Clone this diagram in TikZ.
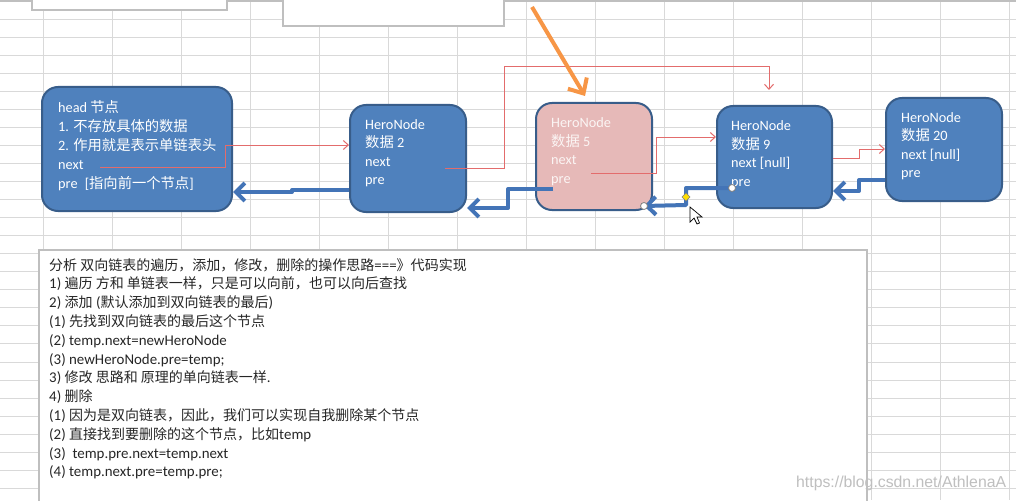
\documentclass[tikz,border=0pt]{standalone}
\usepackage{fontspec}
\setmainfont{Carlito}
\newfontfamily\cjk{Noto Sans CJK SC}
\newfontfamily\cjks[Scale=0.94]{Noto Sans CJK SC}
\newfontfamily\wmfont{Liberation Sans}
\usetikzlibrary{arrows.meta,calc}
\newcommand\zh[1]{{\cjk #1}}
\newcommand\zt[1]{{\cjks #1}}
\definecolor{boxblue}{HTML}{4F81BD}
\definecolor{boxborder}{HTML}{385D8A}
\definecolor{pinkfill}{HTML}{E6B9B8}
\definecolor{redline}{HTML}{E36C6C}
\definecolor{blueline}{HTML}{4374B7}
\definecolor{orangeline}{HTML}{F79646}
\definecolor{gridgray}{HTML}{D9D9D9}
\definecolor{framegray}{HTML}{BFBFBF}
\begin{document}
\begin{tikzpicture}[x=1pt,y=-1pt,
  gridline/.style={draw=gridgray,line width=1pt},
  hbox/.style={draw=boxborder,line width=2pt,fill=boxblue,rounded corners=16pt,inner sep=0pt},
  pbox/.style={hbox,fill=pinkfill},
  btxt/.style={font=\fontsize{14.3}{18}\selectfont,text=white,inner sep=0pt,anchor=base west},
  ptxt/.style={btxt,text=white!85!pinkfill},
  ttxt/.style={font=\fontsize{14.9}{18}\selectfont,text=black!85,inner sep=0pt,anchor=base west},
  redarrow/.style={draw=redline,line width=1pt,-{Straight Barb[length=5pt,width=9pt]}},
  bluearrow/.style={draw=blueline,line width=4pt,line join=round,-{Straight Barb[length=9pt,width=18pt]}},
  orangearrow/.style={draw=orangeline,line width=4pt,-{Straight Barb[length=12pt,width=22pt]}},
  handle/.style={fill=white,draw=gray,line width=0.8pt}
]
\useasboundingbox (0,0) rectangle (1016,500);
\fill[white] (0,0) rectangle (1016,500);
% spreadsheet grid
\foreach \k in {0,...,14} \draw[gridline] ({43+69.07*\k},0) -- ({43+69.07*\k},500);
\foreach \k in {1,...,27} \draw[gridline] (0,{1+18.05*\k}) -- (1016,{1+18.05*\k});
\draw[draw=framegray,line width=2pt] (0,1) -- (1016,1);
% top shapes
\draw[fill=white,draw=framegray,line width=1.2pt] (32,-2) rectangle (227,10);
\draw[fill=white,draw=framegray,line width=1.2pt] (283,-2) rectangle (504,26);
% text box
\draw[fill=white,draw=framegray,line width=1.5pt] (39,250) rectangle (867,503);
% boxes
\node[hbox,minimum width=190pt,minimum height=124pt] (head) at (137,149) {};
\node[hbox,minimum width=116pt,minimum height=107pt] (n2) at (408,158.5) {};
\node[pbox,minimum width=116pt,minimum height=107pt] (n5) at (594,156.5) {};
\node[hbox,minimum width=115pt,minimum height=102pt] (n9) at (774.5,157) {};
\node[hbox,minimum width=116pt,minimum height=103pt] (n20) at (944,149.5) {};
% box texts
\foreach \t [count=\i] in {{head \zh{节点}},{1. \zh{不存放具体的数据}},{2. \zh{作用就是表示单链表头}},{next},{pre\enspace[\zh{指向前一个节点}]}}
  \node[btxt] (hd-\i) at (58,{113+18.75*(\i-1)}) {\t};
\foreach \t [count=\i] in {{HeroNode},{\zh{数据} 2},{next},{pre}}
  \node[btxt] (t2-\i) at (365,{129+18.6*(\i-1)}) {\t};
\foreach \t [count=\i] in {{HeroNode},{\zh{数据} 5},{next},{pre}}
  \node[ptxt] (t5-\i) at (551,{128+18.4*(\i-1)}) {\t};
\foreach \t [count=\i] in {{HeroNode},{\zh{数据} 9},{next [null]},{pre}}
  \node[btxt] (t9-\i) at (731,{131+18.4*(\i-1)}) {\t};
\foreach \t [count=\i] in {{HeroNode},{\zh{数据} 20},{next [null]},{pre}}
  \node[btxt] (t20-\i) at (901,{122+18.6*(\i-1)}) {\t};
% text box lines
\foreach \t [count=\i] in {
  {\zt{分析 双向链表的遍历，添加，修改，删除的操作思路}===\zt{》代码实现}},
  {1) \zt{遍历 方和 单链表一样，只是可以向前，也可以向后查找}},
  {2) \zt{添加} (\zt{默认添加到双向链表的最后})},
  {(1) \zt{先找到双向链表的最后这个节点}},
  {(2) temp.next=newHeroNode},
  {(3) newHeroNode.pre=temp;},
  {3) \zt{修改 思路和 原理的单向链表一样}.},
  {4) \zt{删除}},
  {(1) \zt{因为是双向链表，因此，我们可以实现自我删除某个节点}},
  {(2) \zt{直接找到要删除的这个节点，比如}temp},
  {(3)\ \ temp.pre.next=temp.next},
  {(4) temp.next.pre=temp.pre;}}
  \node[ttxt] (tl-\i) at (49,{270+18.8*(\i-1)}) {\t};
% red next-links
\coordinate (r1s) at (100,167);
\coordinate (r2s) at (445,168);
\coordinate (r3s) at (591,173);
\draw[redarrow] (r1s) -- (225,167) -- (225,145) -- (n2.west |- 0,145);
\draw[redarrow,shorten >=15pt] (r2s) -- (504,168) -- (504,67) -- (769,67) -- (769,0 |- n9.north);
\draw[redarrow] (r3s) -- (656,173) -- (656,137) -- (n9.west |- 0,137);
\draw[redarrow] (n9.east |- 0,158) -- (859,158) -- (859,149) -- (n20.west |- 0,149);
% blue pre-links
\coordinate (b2s) at (553,189);
\coordinate (b3s) at (732,188);
\coordinate (b3e) at ($(n5.south east)+(-9,-5)$);
\draw[bluearrow] (n2.west |- 0,190) -- (292,190) -- (292,192) -- (head.east |- 0,192);
\draw[bluearrow] (b2s) -- (508,189) -- (508,208) -- (n2.east |- 0,208);
\draw[bluearrow] (b3s) -- (686,188) -- (686,205) -- (b3e);
\draw[bluearrow] (n20.west |- 0,180) -- (859,180) -- (859,191) -- (n9.east |- 0,191);
% orange pointer arrow
\coordinate (o1) at (532,7);
\coordinate (o2) at (585,96);
\draw[orangearrow] (o1) -- (o2);
% selection handles and cursor
\draw[handle] (b3s) circle (3.5pt);
\draw[handle] (b3e) circle (3.5pt);
\filldraw[fill=yellow!80!orange,draw=gray,line width=0.6pt] (686,193) -- (690,197) -- (686,201) -- (682,197) -- cycle;
\filldraw[fill=white,draw=black,line width=0.7pt] (690,207) -- (690,222) -- (694,218) -- (697,224) -- (699.5,223) -- (697,217) -- (702,217) -- cycle;
% watermark
\node[font=\wmfont\fontsize{15.8}{18}\selectfont,text=black!25,inner sep=0pt,anchor=base west] (wm) at (796,487) {https://blog.csdn.net/AthlenaA};
\end{tikzpicture}
\end{document}
